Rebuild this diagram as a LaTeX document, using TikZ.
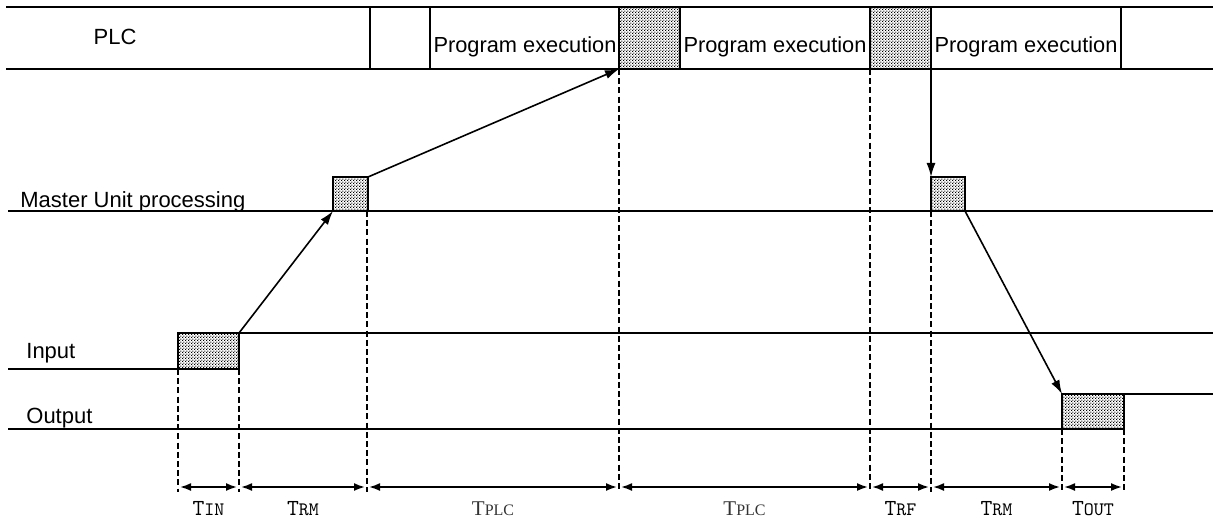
\documentclass[tikz,border=0pt]{standalone}
\usepackage{fontspec}
\setmainfont{Liberation Sans}
\newfontfamily\seriffont{Liberation Serif}
\usetikzlibrary{arrows.meta,patterns}
\pgfdeclarepatternformonly{finedots}{\pgfpointorigin}{\pgfpoint{1.6pt}{1.6pt}}{\pgfpoint{1.6pt}{1.6pt}}{%
  \pgfpathrectangle{\pgfpointorigin}{\pgfpoint{0.7pt}{0.7pt}}%
  \pgfpathrectangle{\pgfpoint{0.8pt}{0.8pt}}{\pgfpoint{0.7pt}{0.7pt}}%
  \pgfusepath{fill}}
\begin{document}
\begin{tikzpicture}[x=0.5pt,y=-0.5pt,
  sig/.style={line width=1pt},
  cell/.style={line width=0.9pt},
  busy/.style={line width=1pt,pattern=finedots},
  vguide/.style={line width=0.7pt,dash pattern=on 3pt off 1.6pt},
  flow/.style={line width=0.8pt,-{Latex[length=7pt,width=4.5pt]}},
  span/.style={line width=0.9pt,{Latex[length=5.5pt,width=4pt]}-{Latex[length=5.5pt,width=4pt]}},
  lbl/.style={inner sep=0pt,font=\fontsize{11}{13}\selectfont},
  tlbl/.style={inner sep=0pt,anchor=base}]
\useasboundingbox (0,0) rectangle (1213,518);

% ---------- PLC band ----------
\draw[busy] (619,7) rectangle (680,69);
\draw[busy] (870,7) rectangle (931,69);
\draw[sig] (6,7) -- (1213,7);
\draw[sig] (6,69) -- (1213,69);
\foreach \x in {370,430,619,680,870,931,1121}
  \draw[cell] (\x,7) -- (\x,69);
\node[lbl,anchor=base] (plc) at (115,45) {PLC};
\node[lbl,anchor=base,font=\fontsize{10.9}{13}\selectfont] (pe1) at (525,53) {Program execution};
\node[lbl,anchor=base,font=\fontsize{10.9}{13}\selectfont] (pe2) at (775,53) {Program execution};
\node[lbl,anchor=base,font=\fontsize{10.9}{13}\selectfont] (pe3) at (1026,53) {Program execution};

% ---------- Master Unit ----------
\node[lbl,anchor=base west] (mu) at (20,207) {Master Unit processing};
\draw[sig] (8,211) -- (1213,211);
\draw[busy] (333,177) rectangle (368,211);
\draw[busy] (931,177) rectangle (965,211);
\coordinate (m1bl) at (333,211);
\coordinate (m1tr) at (368,177);
\coordinate (m2tl) at (931,177);
\coordinate (m2br) at (965,211);

% ---------- Input ----------
\node[lbl,anchor=base west] (inp) at (26,358) {Input};
\draw[sig] (8,369) -- (178,369);
\draw[busy] (178,333) rectangle (239,369);
\draw[sig] (239,333) -- (1213,333);
\coordinate (intr) at (239,333);

% ---------- Output ----------
\node[lbl,anchor=base west] (outp) at (26,423) {Output};
\draw[sig] (8,429) -- (1062,429);
\draw[busy] (1062,394) rectangle (1124,429);
\draw[sig] (1124,394) -- (1213,394);
\coordinate (outtl) at (1062,394);

% ---------- PLC band anchor points ----------
\coordinate (pbl1) at (619,69);
\coordinate (pbl2) at (931,69);

% ---------- data flow arrows ----------
\draw[flow] (intr) -- (m1bl);
\draw[flow] (m1tr) -- (pbl1);
\draw[flow] (pbl2) -- (m2tl);
\draw[flow] (m2br) -- (outtl);

% ---------- guide lines ----------
\coordinate (g1) at (178,369);  \coordinate (h1) at (178,492);
\coordinate (g2) at (239,369);  \coordinate (h2) at (239,492);
\coordinate (g3) at (367,211);  \coordinate (h3) at (367,492);
\coordinate (g4) at (619,69);   \coordinate (h4) at (619,492);
\coordinate (g5) at (870,69);   \coordinate (h5) at (870,492);
\coordinate (g6) at (931,211);  \coordinate (h6) at (931,492);
\coordinate (g7) at (1062,429); \coordinate (h7) at (1062,492);
\coordinate (g8) at (1124,429); \coordinate (h8) at (1124,492);
\foreach \i in {1,...,8} \draw[vguide] (g\i) -- (h\i);

% ---------- spans ----------
\foreach \a/\b in {178/239,239/367,367/619,619/870,870/931,931/1062,1062/1124}{
  \coordinate (sa) at (\a+2,487);
  \coordinate (sb) at (\b-2,487);
  \draw[span] (sa) -- (sb);
}
\node[tlbl] (t1) at (208.5,515) {\ttfamily\fontsize{11.5}{10}\selectfont T\fontsize{9.5}{10}\selectfont IN};
\node[tlbl] (t2) at (303,515) {\ttfamily\fontsize{11.5}{10}\selectfont T\fontsize{9.5}{10}\selectfont RM};
\node[tlbl,text=black!80] (t3) at (493,515) {\seriffont\fontsize{10.5}{10}\selectfont T\fontsize{8}{10}\selectfont PLC};
\node[tlbl,text=black!80] (t4) at (744.5,515) {\seriffont\fontsize{10.5}{10}\selectfont T\fontsize{8}{10}\selectfont PLC};
\node[tlbl] (t5) at (900.5,515) {\ttfamily\fontsize{11.5}{10}\selectfont T\fontsize{9.5}{10}\selectfont RF};
\node[tlbl] (t6) at (996.5,515) {\ttfamily\fontsize{11.5}{10}\selectfont T\fontsize{9.5}{10}\selectfont RM};
\node[tlbl] (t7) at (1093,515) {\ttfamily\fontsize{11.5}{10}\selectfont T\fontsize{9.5}{10}\selectfont OUT};
\end{tikzpicture}
\end{document}
